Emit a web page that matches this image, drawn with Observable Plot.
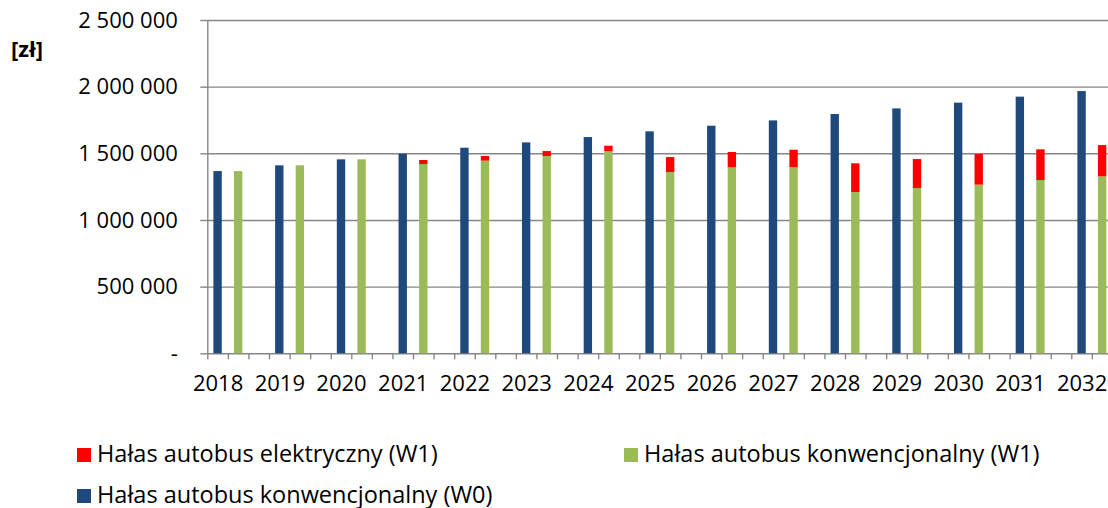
<!DOCTYPE html>
<html>
<head>
<meta charset="utf-8">
<script src="https://cdn.jsdelivr.net/npm/d3@7"></script>
<script src="https://cdn.jsdelivr.net/npm/@observablehq/plot@0.6"></script>
<style>
  html, body { margin: 0; padding: 0; background: #fff; }
  body { width: 1108px; height: 508px; overflow: hidden; position: relative; font-family: "Open Sans", sans-serif; }
  #chart { position: absolute; left: 0; top: 0; }
  #unit { position: absolute; left: 11px; top: 37px; font-size: 22px; font-weight: bold; line-height: 22px; color: #000; }
  .leg { position: absolute; font-size: 23.5px; line-height: 23.5px; color: #000; white-space: nowrap; }
  .leg .sw { position: absolute; width: 14px; height: 14px; }
  .leg .tx { position: absolute; top: 0; }
</style>
</head>
<body>
<div id="chart"></div>
<div id="unit">[zł]</div>
<div id="legend"></div>
<script>
// ---- data ----
const years = [2018, 2019, 2020, 2021, 2022, 2023, 2024, 2025, 2026, 2027, 2028, 2029, 2030, 2031, 2032];
const busConvW0 = [1367000, 1410000, 1455000, 1497000, 1542000, 1582000, 1622000, 1665000, 1707000, 1747000, 1795000, 1837000, 1880000, 1925000, 1967000];
const busConvW1 = [1367000, 1410000, 1455000, 1420000, 1445000, 1480000, 1517000, 1360000, 1395000, 1397000, 1210000, 1240000, 1265000, 1300000, 1327000];
const busElecW1 = [0, 0, 0, 30000, 35000, 37000, 40000, 112000, 115000, 130000, 215000, 217000, 230000, 230000, 235000];
const seriesNames = ["Hałas autobus elektryczny (W1)", "Hałas autobus konwencjonalny (W1)", "Hałas autobus konwencjonalny (W0)"];
const seriesColors = ["#FF0000", "#9BBB59", "#1F497D"];
const yTicks = [0, 500000, 1000000, 1500000, 2000000, 2500000];

// ---- build table ----
const slots = years.flatMap(y => [y + "a", y + "b", y + "c"]);
const yearSlots = years.map(y => y + "a");
const rows = [];
years.forEach((y, i) => {
  rows.push({slot: y + "a", series: seriesNames[2], value: busConvW0[i]});
  rows.push({slot: y + "b", series: seriesNames[1], value: busConvW1[i]});
  rows.push({slot: y + "b", series: seriesNames[0], value: busElecW1[i]});
});

const x0 = 207.3, x1 = 1133;
const bw = (x1 - x0) / slots.length;
const fmt = d => d === 0 ? "-" : d3.format(",")(d).replace(/,/g, " ");
const grey = "#868686";

const chart = Plot.plot({
  width: 1108,
  height: 410,
  marginTop: 20,
  marginBottom: 56.7,
  marginLeft: x0,
  marginRight: 0,
  x: {type: "band", domain: slots, range: [x0, x1], padding: 0, round: false, axis: null},
  y: {domain: [0, 2500000], axis: null},
  color: {domain: seriesNames, range: seriesColors},
  style: {fontFamily: "'Open Sans', sans-serif", fontSize: "22px", color: "#000", background: "transparent", overflow: "hidden"},
  marks: [
    Plot.ruleY(yTicks, {stroke: grey, strokeWidth: 1.4}),
    Plot.barY(rows, {x: "slot", y: "value", fill: "series", insetLeft: 6.1, insetRight: 6.1}),
    Plot.ruleX([slots[0]], {dx: -bw / 2, y1: 0, y2: 2500000, stroke: grey, strokeWidth: 1.4}),
    Plot.axisY({ticks: yTicks, tickSize: 7, tickPadding: 23, tickFormat: fmt, label: null, stroke: grey, strokeWidth: 1.4, fill: "#000"}),
    Plot.axisX({ticks: slots, tickSize: 6, tickFormat: () => "", label: null, dx: -bw / 2, stroke: grey, strokeWidth: 1.4}),
    Plot.axisX({ticks: yearSlots, tickSize: 0, tickPadding: 22, tickFormat: s => s.slice(0, 4), label: null, fill: "#000"})
  ]
});
document.getElementById("chart").appendChild(chart);

// ---- legend ----
const legendPos = [
  {name: seriesNames[0], color: seriesColors[0], left: 77, top: 448},
  {name: seriesNames[1], color: seriesColors[1], left: 624, top: 448},
  {name: seriesNames[2], color: seriesColors[2], left: 77, top: 489}
];
const legend = document.getElementById("legend");
legendPos.forEach(d => {
  const el = document.createElement("div");
  el.className = "leg";
  el.style.left = d.left + "px";
  el.style.top = d.top + "px";
  el.innerHTML = `<div class="sw" style="background:${d.color};left:0;top:0"></div><div class="tx" style="left:20px;top:-6.4px">${d.name}</div>`;
  legend.appendChild(el);
});
</script>
</body>
</html>
